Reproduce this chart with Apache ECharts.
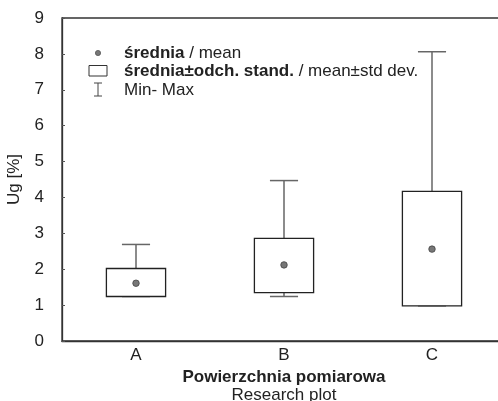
<!DOCTYPE html>
<html>
<head>
<meta charset="utf-8">
<script src="https://cdn.jsdelivr.net/npm/echarts@6/dist/echarts.min.js"></script>
<style>
  html, body { margin: 0; padding: 0; background: #fff; }
  #chart { width: 498px; height: 401px; }
</style>
</head>
<body>
<div id="chart"></div>
<script>
const categories = ['A', 'B', 'C'];
const means = [1.61, 2.12, 2.56];
const sdLow = [1.24, 1.35, 0.98];
const sdHigh = [2.02, 2.86, 4.17];
const mins = [1.24, 1.24, 0.98];
const maxs = [2.69, 4.47, 8.06];
const yTicks = [0, 1, 2, 3, 4, 5, 6, 7, 8, 9];

const FONT = '"Liberation Sans", Arial, sans-serif';
const TEXT = '#222';
const FS = 17;

const boxData = categories.map((c, i) => [i, mins[i], sdLow[i], sdHigh[i], maxs[i]]);

function renderBox(params, api) {
  const x = api.value(0);
  const pMin = api.coord([x, api.value(1)]);
  const pLow = api.coord([x, api.value(2)]);
  const pHigh = api.coord([x, api.value(3)]);
  const pMax = api.coord([x, api.value(4)]);
  const band = api.size([1, 0])[0];
  const boxW = band * 0.4;
  const capW = band * 0.19;
  const cx = pLow[0];
  const whisker = { stroke: '#666', lineWidth: 1.5 };
  return {
    type: 'group',
    children: [
      { type: 'line', shape: { x1: cx, y1: pHigh[1], x2: cx, y2: pMax[1] }, style: whisker },
      { type: 'line', shape: { x1: cx - capW / 2, y1: pMax[1], x2: cx + capW / 2, y2: pMax[1] }, style: whisker },
      { type: 'line', shape: { x1: cx, y1: pLow[1], x2: cx, y2: pMin[1] }, style: whisker },
      { type: 'line', shape: { x1: cx - capW / 2, y1: pMin[1], x2: cx + capW / 2, y2: pMin[1] }, style: whisker },
      {
        type: 'rect',
        shape: { x: cx - boxW / 2, y: pHigh[1], width: boxW, height: pLow[1] - pHigh[1] },
        style: { fill: '#fff', stroke: '#222', lineWidth: 1.3 },
      },
    ],
  };
}

const chart = echarts.init(document.getElementById('chart'));

const boldRich = { b: { fontWeight: 'bold', fontSize: FS, fontFamily: FONT, fill: TEXT } };

chart.setOption({
  backgroundColor: '#fff',
  animation: false,
  grid: {
    left: 62, top: 18, width: 444, height: 323,
    outerBoundsMode: 'none',
    containLabel: false,
    show: true, borderColor: '#333', borderWidth: 1.3, backgroundColor: 'transparent',
  },
  xAxis: {
    type: 'category',
    data: categories,
    axisLine: { show: true, lineStyle: { color: '#333', width: 1.3 } },
    axisTick: { show: false },
    axisLabel: { margin: 6, fontSize: FS, fontFamily: FONT, color: TEXT },
    name: '{b|Powierzchnia pomiarowa}\n{n|Research plot}',
    nameLocation: 'middle',
    nameGap: 26,
    nameTextStyle: {
      fontFamily: FONT,
      color: TEXT,
      rich: {
        b: { fontSize: FS, fontWeight: 'bold', fontFamily: FONT, color: TEXT, lineHeight: 17.5 },
        n: { fontSize: FS, fontFamily: FONT, color: TEXT, lineHeight: 17.5 },
      },
    },
  },
  yAxis: {
    type: 'value',
    min: yTicks[0],
    max: yTicks[yTicks.length - 1],
    interval: 1,
    axisLine: { show: true, lineStyle: { color: '#333', width: 1.3 } },
    axisTick: { show: true, inside: true, length: 3, lineStyle: { color: '#555' } },
    axisLabel: { margin: 18, fontSize: FS, fontFamily: FONT, color: TEXT },
    splitLine: { show: false },
    name: 'Ug [%]',
    nameLocation: 'middle',
    nameRotate: 90,
    nameGap: 39,
    nameTextStyle: { fontSize: FS, fontFamily: FONT, color: TEXT },
  },
  graphic: [
    { type: 'circle', shape: { cx: 98, cy: 53, r: 2.6 }, style: { fill: '#777', stroke: '#555', lineWidth: 0.8 } },
    { type: 'rect', shape: { x: 89, y: 65.5, width: 18, height: 10.5 }, style: { fill: '#fff', stroke: '#333', lineWidth: 1 } },
    { type: 'line', shape: { x1: 98, y1: 83, x2: 98, y2: 96 }, style: { stroke: '#444', lineWidth: 1 } },
    { type: 'line', shape: { x1: 94, y1: 83, x2: 102, y2: 83 }, style: { stroke: '#444', lineWidth: 1 } },
    { type: 'line', shape: { x1: 94, y1: 96, x2: 102, y2: 96 }, style: { stroke: '#444', lineWidth: 1 } },
    {
      type: 'text',
      style: {
        x: 124, y: 53, verticalAlign: 'middle',
        text: '{b|średnia} / mean', fontSize: FS, fontFamily: FONT, fill: TEXT, rich: boldRich,
      },
    },
    {
      type: 'text',
      style: {
        x: 124, y: 71, verticalAlign: 'middle',
        text: '{b|średnia±odch. stand.} / mean±std dev.', fontSize: FS, fontFamily: FONT, fill: TEXT, rich: boldRich,
      },
    },
    {
      type: 'text',
      style: { x: 124, y: 90, verticalAlign: 'middle', text: 'Min- Max', fontSize: FS, fontFamily: FONT, fill: TEXT },
    },
  ],
  series: [
    {
      name: 'średnia±odch. stand.',
      type: 'custom',
      renderItem: renderBox,
      encode: { x: 0, y: [1, 2, 3, 4] },
      data: boxData,
      z: 2,
    },
    {
      name: 'średnia',
      type: 'scatter',
      data: means.map((m, i) => [i, m]),
      symbol: 'circle',
      symbolSize: 6.5,
      itemStyle: { color: '#777', borderColor: '#444', borderWidth: 0.8, opacity: 1 },
      z: 3,
    },
  ],
});
</script>
</body>
</html>
